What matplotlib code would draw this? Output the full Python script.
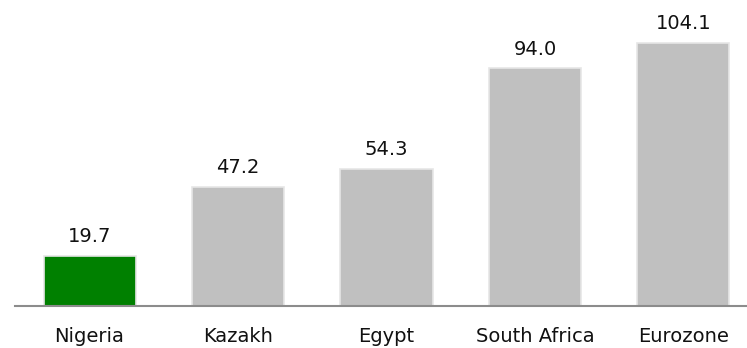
import matplotlib
matplotlib.use('Agg')
import matplotlib.pyplot as plt

categories = ['Nigeria', 'Kazakh', 'Egypt', 'South Africa', 'Eurozone']
values = [19.7, 47.2, 54.3, 94.0, 104.1]
bar_colors = ['#008000', '#c0c0c0', '#c0c0c0', '#c0c0c0', '#c0c0c0']

plt.rcParams['font.family'] = ['DejaVu Sans']

fig = plt.figure(figsize=(7.47, 3.48), dpi=100)
ax = fig.add_axes([0, 42 / 348, 1, 306 / 348])

x = list(range(len(categories)))
bars = ax.bar(x, values, width=0.62, color=bar_colors,
              edgecolor='#e6e6e6', linewidth=1.2)

for bar, val in zip(bars, values):
    ax.annotate(f'{val:.1f}', (bar.get_x() + bar.get_width() / 2, bar.get_height()),
                xytext=(0, 7), textcoords='offset points',
                ha='center', va='bottom', fontsize=14, color='#111111')

x_left, x_right = -0.603, 4.428
ax.set_xlim(x_left, x_right)
ax.set_ylim(0, 121.1)
ax.set_xticks(x)
ax.set_xticklabels(categories, fontsize=14, color='#111111')
ax.tick_params(axis='x', length=0, pad=15)
ax.set_yticks([])

for side in ['top', 'right', 'left']:
    ax.spines[side].set_visible(False)
ax.spines['bottom'].set_color('#8c8c8c')
ax.spines['bottom'].set_linewidth(1.5)
ax.spines['bottom'].set_bounds(-0.502, x_right)

fig.savefig('out.png', dpi=100, facecolor='white')
